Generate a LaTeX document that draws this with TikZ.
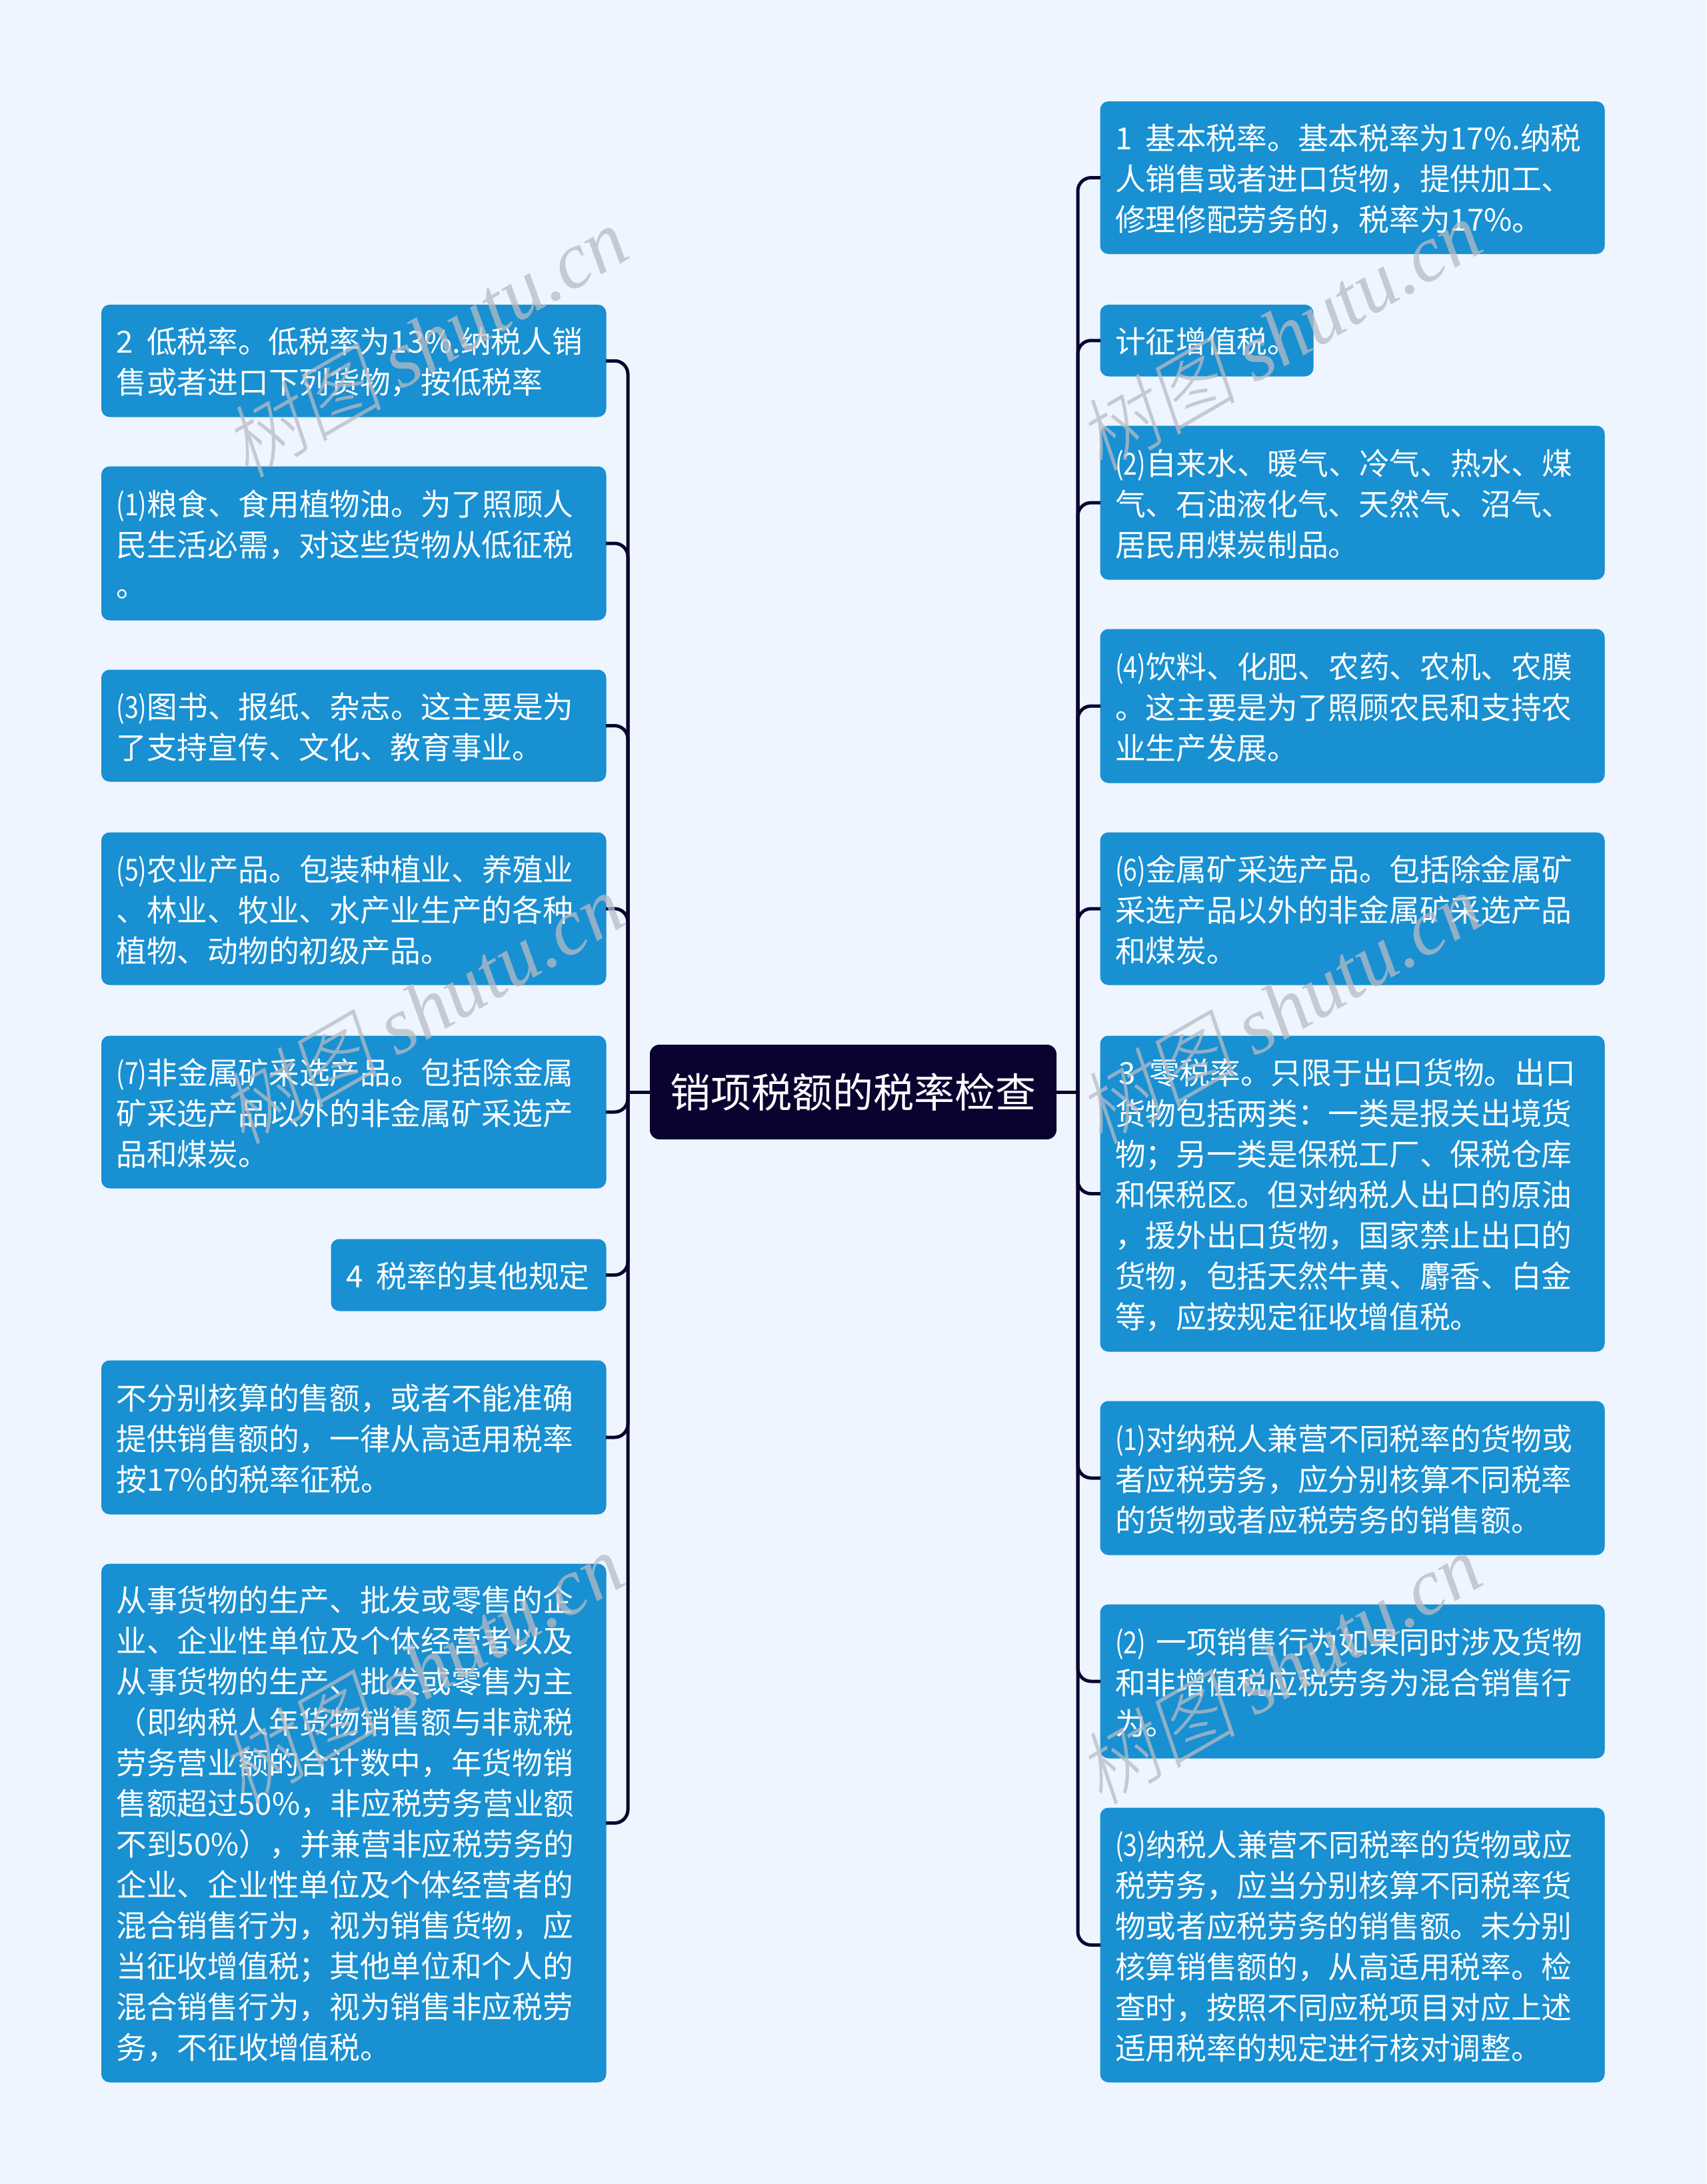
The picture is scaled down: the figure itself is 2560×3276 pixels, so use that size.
\documentclass[tikz,border=0pt]{standalone}
\usepackage{graphicx}
\usepackage{fontspec}
\setmainfont{Noto Sans CJK SC}
\newfontfamily\wmcjk[FakeSlant=0.2]{Noto Sans CJK SC Light}
\newfontfamily\wmlat{Liberation Serif}[ItalicFont=* Italic]
\definecolor{bgc}{HTML}{EEF5FF}
\definecolor{boxc}{HTML}{1890D2}
\definecolor{rootc}{HTML}{0A0330}
\definecolor{linec}{HTML}{0A0330}
\definecolor{wmc}{HTML}{B8BCC4}
\newcommand{\nm}[1]{\scalebox{0.82}[1]{#1}}
\newcommand{\gap}{\kern 2.5pt}
\newcommand{\fc}{\char"FF0C\relax}
\newcommand{\fs}{\char"FF1B\relax}
\newcommand{\fk}{\char"FF1A\relax}
\newcommand{\flp}{\char"FF08\relax}
\newcommand{\frp}{\char"FF09\relax}
\tikzset{
  x=0.5pt,y=-0.5pt,
  leaf/.style={draw=boxc,fill=boxc,text=white,rounded corners=6pt,line width=0.5pt,
    inner xsep=11pt,inner ysep=0pt,outer sep=0pt,align=left,
    font=\fontsize{22.85}{30.5}\selectfont},
  rootbox/.style={fill=rootc,text=white,rounded corners=7pt,inner sep=0pt,outer sep=0pt,
    font=\fontsize{30.5}{36}\selectfont,minimum width=305pt,minimum height=71pt},
  conn/.style={draw=linec,line width=2.5pt,rounded corners=10pt},
  wm/.style={rotate=30,text=wmc,opacity=0.75,font=\fontsize{60}{60}\selectfont,inner sep=0pt},
}
\newcommand{\leafbox}[6]{%
  \pgfmathsetmacro{\cx}{(#2+#4)/2}\pgfmathsetmacro{\cy}{(#3+#5)/2}%
  \pgfmathsetmacro{\wpt}{(#4-#2)*0.5}\pgfmathsetmacro{\hpt}{(#5-#3)*0.5}%
  \pgfmathsetmacro{\tpt}{(#4-#2)*0.5-22}%
  \node[leaf,text width=\tpt pt,minimum width=\wpt pt,minimum height=\hpt pt] (#1) at (\cx,\cy) {\rule{0pt}{21pt}#6};}
\newcommand{\wmark}[3]{\node[wm] (#1) at (#2,#3) {\wmcjk 树图 \wmlat\itshape shutu.cn};}
\begin{document}
\begin{tikzpicture}
\useasboundingbox[fill=bgc] (0,0) rectangle (2560,3276);
\coordinate (busL) at (942,0);
\coordinate (busR) at (1617,0);
\node[rootbox] (root) at (1280,1638) {销项税额的税率检查};
% left
\leafbox{a}{152.5}{457.5}{909}{625}{2 \gap 低税率。低税率为13\%.纳税人销\\售或者进口下列货物\fc{}按低税率}
\leafbox{b}{152.5}{700}{909}{930}{\nm{(1)}粮食、食用植物油。为了照顾人\\民生活必需\fc{}对这些货物从低征税\\。}
\leafbox{c}{152.5}{1005}{909}{1172}{\nm{(3)}图书、报纸、杂志。这主要是为\\了支持宣传、文化、教育事业。}
\leafbox{d}{152.5}{1249}{909}{1477}{\nm{(5)}农业产品。包装种植业、养殖业\\、林业、牧业、水产业生产的各种\\植物、动物的初级产品。}
\leafbox{e}{152.5}{1554}{909}{1782}{\nm{(7)}非金属矿采选产品。包括除金属\\矿采选产品以外的非金属矿采选产\\品和煤炭。}
\leafbox{f}{497}{1859}{909}{1966}{4 \gap 税率的其他规定}
\leafbox{g}{152.5}{2041}{909}{2271}{不分别核算的售额\fc{}或者不能准确\\提供销售额的\fc{}一律从高适用税率\\按17\%的税率征税。}
\leafbox{h}{152.5}{2346}{909}{3123}{从事货物的生产、批发或零售的企\\业、企业性单位及个体经营者以及\\从事货物的生产、批发或零售为主\\\flp{}即纳税人年货物销售额与非就税\\劳务营业额的合计数中\fc{}年货物销\\售额超过50\%\fc{}非应税劳务营业额\\不到50\%\frp{}\fc{}并兼营非应税劳务的\\企业、企业性单位及个体经营者的\\混合销售行为\fc{}视为销售货物\fc{}应\\当征收增值税\fs{}其他单位和个人的\\混合销售行为\fc{}视为销售非应税劳\\务\fc{}不征收增值税。}
% right
\leafbox{p}{1651}{152.5}{2407}{380.5}{1 \gap 基本税率。基本税率为17\%.纳税\\人销售或者进口货物\fc{}提供加工、\\修理修配劳务的\fc{}税率为17\%。}
\leafbox{q}{1651}{457.5}{1970}{564}{计征增值税。}
\leafbox{r}{1651}{639}{2407}{869}{\nm{(2)}自来水、暖气、冷气、热水、煤\\气、石油液化气、天然气、沼气、\\居民用煤炭制品。}
\leafbox{s}{1651}{944}{2407}{1174}{\nm{(4)}饮料、化肥、农药、农机、农膜\\。这主要是为了照顾农民和支持农\\业生产发展。}
\leafbox{t}{1651}{1249}{2407}{1477}{\nm{(6)}金属矿采选产品。包括除金属矿\\采选产品以外的非金属矿采选产品\\和煤炭。}
\leafbox{u}{1651}{1554}{2407}{2027}{\kern 2.5pt 3 \kern 2.8pt 零税率。只限于出口货物。出口\\货物包括两类\fk{}一类是报关出境货\\物\fs{}另一类是保税工厂、保税仓库\\和保税区。但对纳税人出口的原油\\\fc{}援外出口货物\fc{}国家禁止出口的\\货物\fc{}包括天然牛黄、麝香、白金\\等\fc{}应按规定征收增值税。}
\leafbox{v}{1651}{2102}{2407}{2332}{\nm{(1)}对纳税人兼营不同税率的货物或\\者应税劳务\fc{}应分别核算不同税率\\的货物或者应税劳务的销售额。}
\leafbox{w}{1651}{2407}{2407}{2637}{\mbox{\nm{(2)} 一项销售行为如果同时涉及货物}\\和非增值税应税劳务为混合销售行\\为。}
\leafbox{x}{1651}{2712}{2407}{3123}{\nm{(3)}纳税人兼营不同税率的货物或应\\税劳务\fc{}应当分别核算不同税率货\\物或者应税劳务的销售额。未分别\\核算销售额的\fc{}从高适用税率。检\\查时\fc{}按照不同应税项目对应上述\\适用税率的规定进行核对调整。}
% connectors
\draw[conn,rounded corners=0pt] (root.west) -- (root.west -| busL);
\draw[conn,rounded corners=0pt] (root.east) -- (root.east -| busR);
\foreach \n in {a,b,c,d,e,f,g,h} \draw[conn] (root.west -| busL) |- (\n.east);
\foreach \n in {p,q,r,s,t,u,v,w,x} \draw[conn] (root.east -| busR) |- (\n.west);
% watermarks
\wmark{m1}{638}{512}
\wmark{m2}{1919}{502}
\wmark{m3}{632}{1512}
\wmark{m4}{1919}{1512}
\wmark{m5}{632}{2502}
\wmark{m6}{1919}{2502}
\end{tikzpicture}
\end{document}
